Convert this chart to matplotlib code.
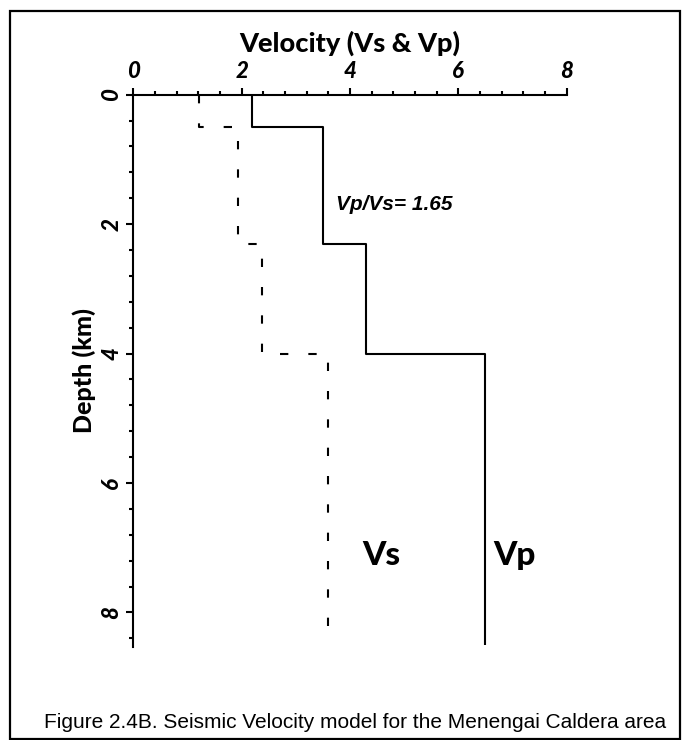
import numpy as np
import matplotlib
matplotlib.use('Agg')
from matplotlib import pyplot as plt
from matplotlib.patches import Rectangle
from matplotlib.ticker import MultipleLocator

# layer boundaries (km) and velocities (km/s)
depth_edges = [0.0, 0.5, 2.3, 4.0, 8.5]
vp = [2.2, 3.5, 4.3, 6.5]
vs = [1.21, 1.94, 2.37, 3.59]
x_ticks = [0, 2, 4, 6, 8]
y_ticks = [0, 2, 4, 6, 8]

plt.rcParams['lines.scale_dashes'] = False

def steps(vals, edges):
    # turn layer values into a stepped profile
    x = np.repeat(vals, 2)
    y = np.repeat(edges, 2)[1:-1]
    return x, y

fig = plt.figure(figsize=(6.83, 7.4), dpi=100)
ax = fig.add_axes([0.1952, 0.1261, 0.6345, 0.7459])

x, y = steps(vp, depth_edges)
ax.plot(x, y, color='black', lw=1.5, solid_capstyle='butt')
x, y = steps(vs, depth_edges)
ax.plot(x, y, color='black', lw=1.5, linestyle=(0, (6, 14.4)), dash_capstyle='butt')

ax.set_xlim(0, 8)
ax.set_ylim(8.53, 0)

for s in ['right', 'bottom']:
    ax.spines[s].set_visible(False)
for s in ['left', 'top']:
    ax.spines[s].set_linewidth(1.5)

ax.xaxis.tick_top()
ax.xaxis.set_label_position('top')
ax.set_xticks(x_ticks)
ax.set_yticks(y_ticks)
ax.xaxis.set_minor_locator(MultipleLocator(0.4))
ax.yaxis.set_minor_locator(MultipleLocator(0.4))
ax.tick_params(which='major', length=5, width=1.5, direction='out')
ax.tick_params(which='minor', length=3, width=1.5, direction='out')
ax.tick_params(axis='x', which='major', pad=4)
ax.tick_params(axis='y', which='major', pad=3)

tfont = dict(family='Lato', weight='black', style='italic', size=16)
ax.set_xticklabels([str(t) for t in x_ticks], fontdict=tfont)
ax.set_yticklabels([str(t) for t in y_ticks], fontdict=tfont, rotation=90, va='center')

ax.set_xlabel('Velocity (Vs & Vp)', family='Lato', weight='black', size=19.5, labelpad=7)
ax.set_ylabel('Depth (km)', family='Lato', weight='black', size=18, labelpad=4)

ax.text(3.75, 1.69, 'Vp/Vs= 1.65', family='Liberation Sans', weight='bold', style='italic',
        size=15, va='center', ha='left')
ax.text(4.22, 7.12, 'Vs', family='Lato', weight='black', size=24, va='center', ha='left')
ax.text(6.65, 7.12, 'Vp', family='Lato', weight='black', size=24, va='center', ha='left')

fig.text(355 / 683, 1 - 723 / 740, 'Figure 2.4B. Seismic Velocity model for the Menengai Caldera area',
         family='Liberation Sans', size=15, ha='center', va='center')

# frame around the whole figure
fig.patches.append(Rectangle((10 / 683, 1 / 740), 670 / 683, 728 / 740, transform=fig.transFigure,
                             fill=False, lw=1.6, edgecolor='black'))

fig.savefig('out.png', dpi=100)
